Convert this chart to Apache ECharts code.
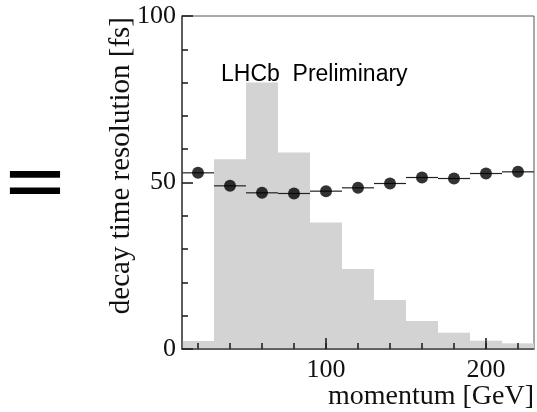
<!DOCTYPE html>
<html><head><meta charset="utf-8">
<script src="https://cdn.jsdelivr.net/npm/echarts@6/dist/echarts.min.js"></script>
<style>html,body{margin:0;padding:0;background:#fff}#c{width:537px;height:412px}</style>
</head><body><div id="c"></div>
<script>
// momentum bin centres [GeV], bin width 20
const binCenters = [20, 40, 60, 80, 100, 120, 140, 160, 180, 200, 220];
// grey histogram: momentum distribution (arbitrary units on the 0-100 scale)
const histValues = [2.4, 57, 80, 59, 38, 24, 14.7, 8.4, 4.9, 2.5, 1.7];
// decay time resolution [fs]
const resolution = [52.9, 49.0, 46.9, 46.7, 47.4, 48.4, 49.7, 51.5, 51.2, 52.7, 53.2];
const binHalfWidth = 10;
const xMinorTicks = [20, 40, 60, 80, 100, 120, 140, 160, 180, 200, 220];
const xMajorTicks = [100, 200];
const yMajorTicks = [0, 50, 100];

const axisColor = '#444';
const tickColor = '#222';
const serif = '"Liberation Serif", "Times New Roman", serif';

const chart = echarts.init(document.getElementById('c'), null, {renderer: 'canvas'});

const histData = binCenters.map((x, i) => [x, histValues[i]]);
const resData = binCenters.map((x, i) => [x, resolution[i]]);

chart.setOption({
  animation: false,
  grid: {left: 182, right: 3, top: 16, bottom: 63, show: true, borderColor: '#555', borderWidth: 1},
  xAxis: [{
    type: 'value', min: 10, max: 230, z: 10,
    axisLine: {show: true, lineStyle: {color: axisColor, width: 1.5}},
    axisTick: {show: true, inside: true, length: 6, customValues: xMinorTicks, lineStyle: {color: tickColor, width: 1.6}},
    axisLabel: {show: true, customValues: xMajorTicks, margin: 8, fontFamily: serif, fontSize: 26, color: '#111'},
    splitLine: {show: false},
    name: 'momentum [GeV]', nameLocation: 'end', nameGap: 0,
    nameTextStyle: {fontFamily: serif, fontSize: 28, color: '#111', align: 'right', verticalAlign: 'top', padding: [34, 0, 0, 0]}
  }, {
    type: 'value', min: 10, max: 230, position: 'bottom', z: 10,
    axisLine: {show: false},
    axisTick: {show: true, inside: true, length: 11, customValues: xMajorTicks, lineStyle: {color: tickColor, width: 1.6}},
    axisLabel: {show: false}, splitLine: {show: false}
  }],
  yAxis: [{
    type: 'value', min: 0, max: 100, interval: 50, z: 10,
    axisLine: {show: true, lineStyle: {color: axisColor, width: 1.5}},
    axisTick: {show: true, inside: true, length: 11, lineStyle: {color: tickColor, width: 1.6}},
    minorTick: {show: true, splitNumber: 5, length: 6, lineStyle: {color: tickColor, width: 1.6}},
    axisLabel: {margin: 6, fontFamily: serif, fontSize: 26, color: '#111'},
    splitLine: {show: false}
  }],
  graphic: [
    {type: 'text', left: 120.5 - 13.5, top: 17, rotation: Math.PI / 2, originX: 0, originY: 0,
     style: {text: 'decay time resolution [fs]', font: '29px ' + serif, fill: '#111', textAlign: 'center', textVerticalAlign: 'middle'}},
    {type: 'text', x: 221, y: 63, style: {text: 'LHCb  Preliminary', font: '23px "Liberation Sans", Arial, sans-serif', fill: '#000', textVerticalAlign: 'alphabetic'}},
    {type: 'text', x: 35, y: 186, scaleY: 0.62, style: {text: '=', font: 'bold 100px "Liberation Sans", Arial, sans-serif', fill: '#000', textAlign: 'center', textVerticalAlign: 'middle'}}
  ],
  series: [{
    type: 'custom', name: 'momentum distribution', xAxisIndex: 0, yAxisIndex: 0, data: histData, z: 1,
    renderItem: function (params, api) {
      const x = api.value(0), v = api.value(1);
      const p0 = api.coord([x - binHalfWidth, v]);
      const p1 = api.coord([x + binHalfWidth, 0]);
      return {type: 'rect', shape: {x: p0[0], y: p0[1], width: p1[0] - p0[0], height: p1[1] - p0[1]}, style: {fill: '#d3d3d3'}};
    }
  }, {
    type: 'custom', name: 'error bars', xAxisIndex: 0, yAxisIndex: 0, data: resData, z: 3,
    renderItem: function (params, api) {
      const x = api.value(0), v = api.value(1);
      const a = api.coord([x - binHalfWidth, v]);
      const b = api.coord([x + binHalfWidth, v]);
      return {type: 'line', shape: {x1: a[0], y1: a[1], x2: b[0], y2: b[1]}, style: {stroke: '#222', lineWidth: 1.2}};
    }
  }, {
    type: 'scatter', name: 'decay time resolution', xAxisIndex: 0, yAxisIndex: 0, data: resData, z: 4,
    symbol: 'circle', symbolSize: 12, itemStyle: {color: '#000'}
  }]
});
</script>
</body></html>
